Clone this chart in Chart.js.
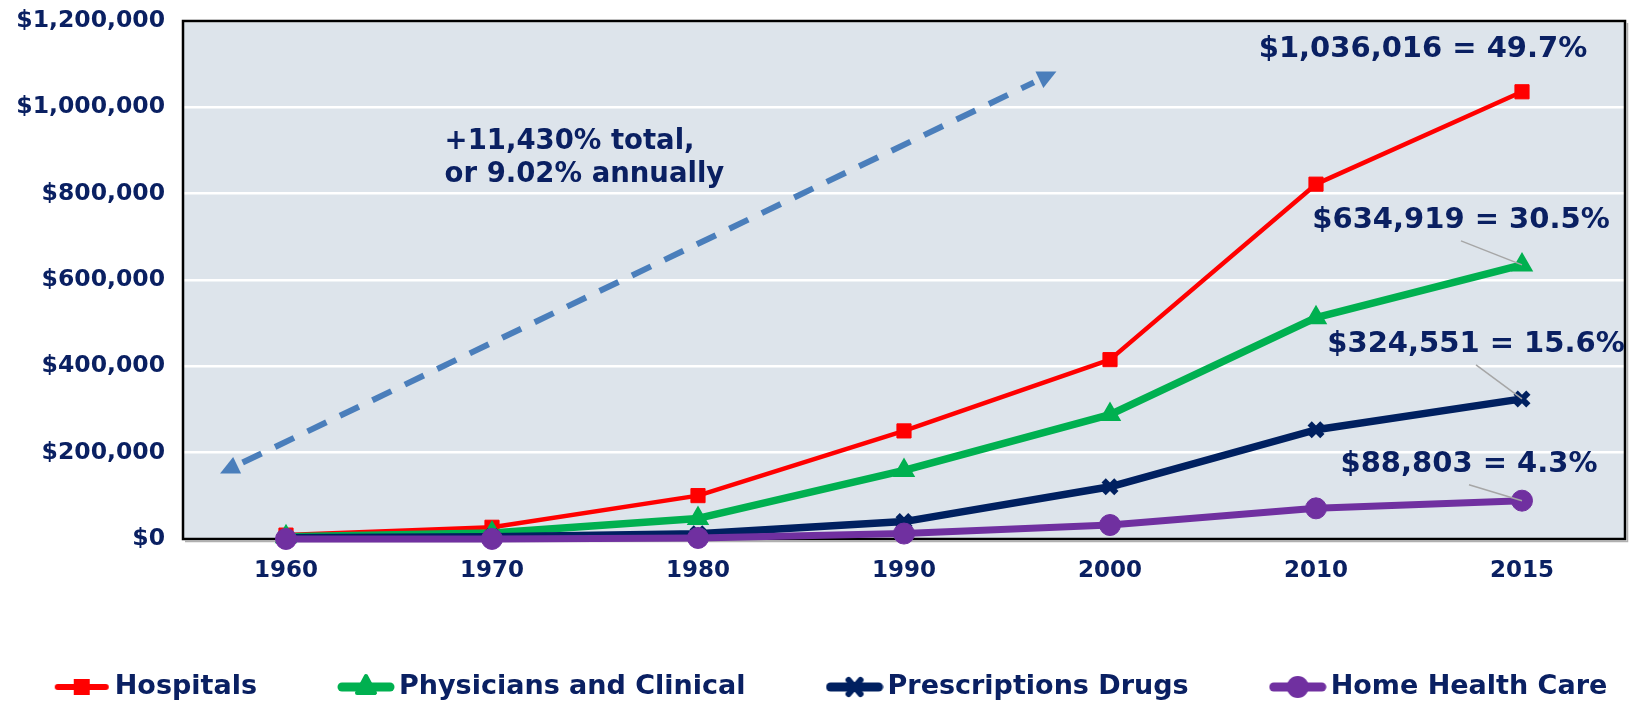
<!DOCTYPE html>
<html>
<head>
<meta charset="utf-8">
<title>Health spending by category</title>
<script src="https://cdn.jsdelivr.net/npm/chart.js@4.4.0/dist/chart.umd.min.js"></script>
<style>
  html, body { margin: 0; padding: 0; background: #ffffff; }
  #wrap { width: 1640px; height: 707px; }
</style>
</head>
<body>
<div id="wrap"><canvas id="chart" width="1640" height="707"></canvas></div>
<script>
// values ($ millions)
const years = ["1960", "1970", "1980", "1990", "2000", "2010", "2015"];
const hospitals = [9000, 27200, 100500, 250400, 415500, 822000, 1036016];
const physicians = [5400, 14000, 47700, 158900, 288200, 512800, 634919];
const drugs = [2700, 5500, 12000, 40300, 121000, 253100, 324551];
const homeHealth = [100, 200, 2400, 12600, 32400, 71000, 88803];

const seriesNames = ["Hospitals", "Physicians and Clinical", "Prescriptions Drugs", "Home Health Care"];
const endLabels = ["$1,036,016 = 49.7%", "$634,919 = 30.5%", "$324,551 = 15.6%", "$88,803 = 4.3%"];
const growthNote = ["+11,430% total,", "or 9.02% annually"];
const yMax = 1200000;
const yStep = 200000;

const NAVY = "#0a2062";
const FONT = "'DejaVu Sans', 'Open Sans', sans-serif";
const colors = ["#ff0000", "#00b050", "#002060", "#7030a0"];
const lineWidths = [4.5, 7.5, 7.5, 7];
const pointStyles = ["rect", "triangle", "crossRot", "circle"];

// offsets of the end labels from the last point (px), leader line or not
const labelOffsets = [[-99, -42, false], [-61, -44, true], [-46, -54, true], [-53, -36, true]];

// small legend swatch: line with the marker in the middle
const makeSwatch = (i) => {
  const c = document.createElement("canvas");
  c.width = 58;
  c.height = 28;
  const g = c.getContext("2d");
  g.strokeStyle = colors[i];
  g.fillStyle = colors[i];
  g.lineCap = "round";
  g.lineWidth = i === 0 ? 6 : 9;
  g.beginPath();
  g.moveTo(5, 14);
  g.lineTo(53, 14);
  g.stroke();
  g.beginPath();
  if (i === 0) {
    g.fillRect(21, 6, 16, 16);
  } else if (i === 1) {
    g.lineJoin = "round";
    g.lineWidth = 4;
    g.moveTo(29, 3);
    g.lineTo(38, 20);
    g.lineTo(20, 20);
    g.closePath();
    g.fill();
    g.stroke();
  } else if (i === 2) {
    g.lineWidth = 6;
    g.moveTo(23, 7); g.lineTo(35, 21);
    g.moveTo(35, 7); g.lineTo(23, 21);
    g.stroke();
  } else {
    g.arc(29, 14, 11, 0, Math.PI * 2);
    g.fill();
  }
  return c;
};

const plotFrame = {
  id: "plotFrame",
  beforeDraw(chart) {
    const { ctx, chartArea: a } = chart;
    ctx.save();
    ctx.fillStyle = "#dde4eb";
    ctx.fillRect(a.left, a.top, a.right - a.left, a.bottom - a.top);
    ctx.restore();
  },
  beforeDatasetsDraw(chart) {
    const { ctx, chartArea: a } = chart;
    ctx.save();
    ctx.strokeStyle = "#b0b0b0";
    ctx.lineWidth = 1.5;
    ctx.beginPath();
    ctx.moveTo(a.right + 2.5, a.top + 2);
    ctx.lineTo(a.right + 2.5, a.bottom + 2.5);
    ctx.lineTo(a.left + 2, a.bottom + 2.5);
    ctx.stroke();
    ctx.strokeStyle = "#000000";
    ctx.lineWidth = 2.5;
    ctx.strokeRect(a.left, a.top, a.right - a.left, a.bottom - a.top);

    // dashed double arrow, placed in scale units
    const xs = chart.scales.x, ys = chart.scales.y;
    const x1 = xs.getPixelForValue(-0.32), y1 = ys.getPixelForValue(152000);
    const x2 = xs.getPixelForValue(3.74), y2 = ys.getPixelForValue(1083000);
    const ang = Math.atan2(y2 - y1, x2 - x1);
    const head = 21;
    ctx.strokeStyle = "#4a7ebb";
    ctx.fillStyle = "#4a7ebb";
    ctx.lineWidth = 6;
    ctx.setLineDash([21, 15]);
    ctx.beginPath();
    ctx.moveTo(x1 + Math.cos(ang) * (head + 4), y1 + Math.sin(ang) * (head + 4));
    ctx.lineTo(x2 - Math.cos(ang) * (head + 4), y2 - Math.sin(ang) * (head + 4));
    ctx.stroke();
    ctx.setLineDash([]);
    [[x1, y1, ang + Math.PI], [x2, y2, ang]].forEach(([hx, hy, a2]) => {
      ctx.beginPath();
      ctx.moveTo(hx, hy);
      ctx.lineTo(hx - Math.cos(a2 - 0.45) * head, hy - Math.sin(a2 - 0.45) * head);
      ctx.lineTo(hx - Math.cos(a2 + 0.45) * head, hy - Math.sin(a2 + 0.45) * head);
      ctx.closePath();
      ctx.fill();
    });

    ctx.fillStyle = NAVY;
    ctx.font = "bold 27.5px " + FONT;
    ctx.textAlign = "left";
    ctx.textBaseline = "middle";
    ctx.fillText(growthNote[0], xs.getPixelForValue(0.77), ys.getPixelForValue(920000));
    ctx.fillText(growthNote[1], xs.getPixelForValue(0.77), ys.getPixelForValue(843000));
    ctx.restore();
  },
  afterDatasetsDraw(chart) {
    const { ctx } = chart;
    ctx.save();
    ctx.font = "bold 29px " + FONT;
    ctx.textAlign = "center";
    ctx.textBaseline = "middle";
    chart.data.datasets.forEach((ds, i) => {
      const meta = chart.getDatasetMeta(i);
      const pt = meta.data[meta.data.length - 1];
      const [dx, dy, leader] = labelOffsets[i];
      const lx = pt.x + dx, ly = pt.y + dy;
      if (leader) {
        ctx.strokeStyle = "#a6a6a6";
        ctx.lineWidth = 1.5;
        ctx.beginPath();
        ctx.moveTo(lx, ly + 20);
        ctx.lineTo(pt.x, pt.y);
        ctx.stroke();
      }
      ctx.fillStyle = NAVY;
      ctx.fillText(endLabels[i], lx, ly);
    });
    ctx.restore();
  }
};

// one-row legend under the axis (the built-in one wraps with these gaps)
const legendRow = {
  id: "legendRow",
  afterDraw(chart) {
    const { ctx } = chart;
    const names = chart.data.datasets.map((ds) => ds.label);
    ctx.save();
    ctx.font = "bold 27px " + FONT;
    ctx.textAlign = "left";
    ctx.textBaseline = "middle";
    const sw = 58, gapIn = 4, gapOut = 80;
    const widths = names.map((n) => ctx.measureText(n).width);
    const total = widths.reduce((s, w) => s + sw + gapIn + w, 0) + gapOut * (names.length - 1);
    let x = chart.width / 2 + 10 - total / 2;
    const y = chart.height - 20;
    names.forEach((n, i) => {
      ctx.drawImage(makeSwatch(i), x, y - 14);
      x += sw + gapIn;
      ctx.fillStyle = NAVY;
      ctx.fillText(n, x, y);
      x += widths[i] + gapOut;
    });
    ctx.restore();
  }
};

const seriesData = [hospitals, physicians, drugs, homeHealth];
const datasets = seriesData.map((vals, i) => ({
  label: seriesNames[i],
  data: vals,
  borderColor: colors[i],
  backgroundColor: colors[i],
  borderWidth: lineWidths[i],
  borderJoinStyle: "round",
  pointStyle: pointStyles[i],
  pointRadius: i === 2 ? 9 : i === 3 ? 10.5 : 10,
  pointBorderWidth: i === 2 ? 6 : i === 1 ? 3 : 1,
  pointBorderColor: colors[i],
  pointBackgroundColor: colors[i],
  tension: 0,
  clip: false,
  order: 4 - i
}));

const ctx = document.getElementById("chart").getContext("2d");
const chart = new Chart(ctx, {
  type: "line",
  data: { labels: years, datasets: datasets },
  options: {
    responsive: false,
    animation: false,
    devicePixelRatio: 1,
    layout: { padding: { top: 21, right: 10, left: 0, bottom: 118 } },
    scales: {
      x: {
        offset: true,
        grid: { display: false, drawTicks: false },
        border: { display: false },
        ticks: { color: NAVY, font: { family: FONT, size: 23, weight: "bold" }, padding: 18 },
        afterFit: (scale) => {
          scale.height = 50;
          scale.paddingLeft = 0;
          scale.paddingRight = 0;
        }
      },
      y: {
        min: 0,
        max: yMax,
        grid: { color: "#ffffff", lineWidth: 2.5, drawTicks: false },
        border: { display: false },
        ticks: {
          stepSize: yStep,
          color: NAVY,
          padding: 18,
          font: { family: FONT, size: 23.5, weight: "bold" },
          callback: (v) => "$" + Number(v).toLocaleString("en-US")
        },
        afterFit: (scale) => {
          scale.width = 183;
          scale.paddingTop = 0;
          scale.paddingBottom = 0;
        }
      }
    },
    plugins: {
      tooltip: { enabled: false },
      legend: { display: false }
    }
  },
  plugins: [plotFrame, legendRow]
});
</script>
</body>
</html>
